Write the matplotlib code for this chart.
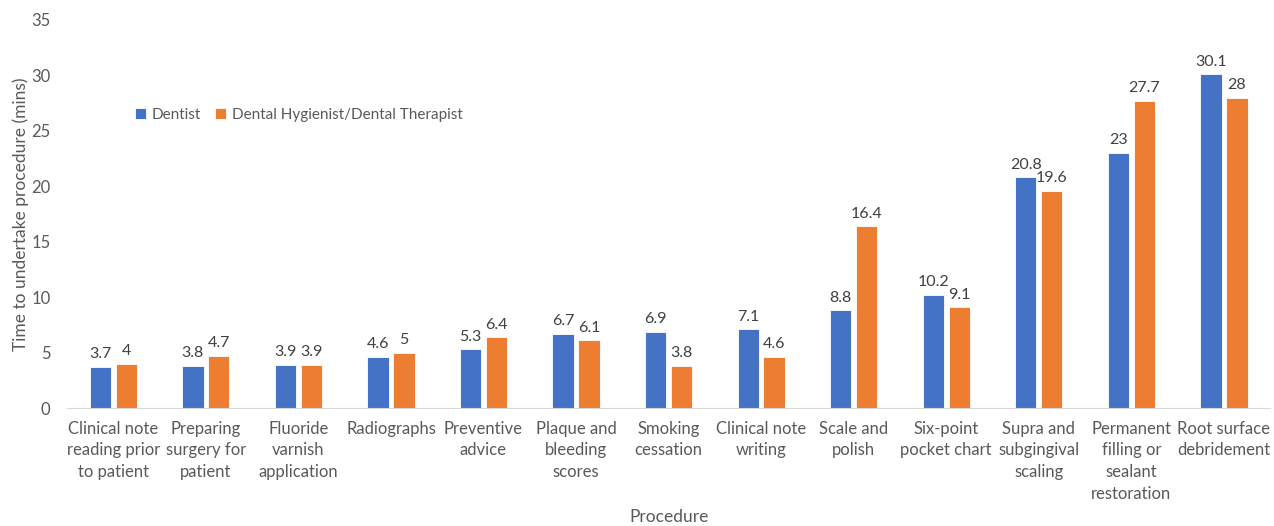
"""
Time taken per dental procedure, dentist vs dental hygienist/therapist.
"""
import matplotlib
matplotlib.use("Agg")
import matplotlib.pyplot as plt
import numpy as np

procedures = [
    "Clinical note\nreading prior\nto patient",
    "Preparing\nsurgery for\npatient",
    "Fluoride\nvarnish\napplication",
    "Radiographs",
    "Preventive\nadvice",
    "Plaque and\nbleeding\nscores",
    "Smoking\ncessation",
    "Clinical note\nwriting",
    "Scale and\npolish",
    "Six-point\npocket chart",
    "Supra and\nsubgingival\nscaling",
    "Permanent\nfilling or\nsealant\nrestoration",
    "Root surface\ndebridement",
]
dentist = [3.7, 3.8, 3.9, 4.6, 5.3, 6.7, 6.9, 7.1, 8.8, 10.2, 20.8, 23, 30.1]
hygienist = [4, 4.7, 3.9, 5, 6.4, 6.1, 3.8, 4.6, 16.4, 9.1, 19.6, 27.7, 28]

BLUE = "#4472C4"
ORANGE = "#ED7D31"
TICK = "#595959"
LABEL = "#404040"

plt.rcParams["font.family"] = ["Lato", "DejaVu Sans"]

fig = plt.figure(figsize=(12.74, 5.26), dpi=100)
ax = fig.add_axes([0.0526, 0.2243, 0.9444, 0.7377])

x = np.arange(len(procedures))
w = 0.23
b1 = ax.bar(x - w / 2 - 0.025, dentist, w, color=BLUE, edgecolor="white",
            linewidth=0.6, label="Dentist")
b2 = ax.bar(x + w / 2 + 0.025, hygienist, w, color=ORANGE, edgecolor="white",
            linewidth=0.6, label="Dental Hygienist/Dental Therapist")

for bars in (b1, b2):
    ax.bar_label(bars, labels=[f"{v:g}" for v in bars.datavalues],
                 padding=4, fontsize=11.5, color=LABEL)

ax.set_xlim(-0.5, len(procedures) - 0.5)
ax.set_ylim(0, 35)
ax.set_yticks(range(0, 36, 5))
ax.set_xticks(x)
ax.set_xticklabels(procedures, fontsize=12, color=TICK, linespacing=1.45)
ax.tick_params(axis="y", labelsize=12, labelcolor=TICK, length=0, pad=12)
ax.tick_params(axis="x", length=0, pad=9)

for side in ("top", "right", "left"):
    ax.spines[side].set_visible(False)
ax.spines["bottom"].set_color("#D9D9D9")

ax.set_ylabel("Time to undertake procedure (mins)", fontsize=12.5, color=TICK)
ax.yaxis.set_label_coords(-0.032, 0.5)
ax.set_xlabel("Procedure", fontsize=12.5, color=TICK)
ax.xaxis.set_label_coords(0.5, -0.26)

ax.legend(loc="center left", bbox_to_anchor=(0.045, 0.756), ncol=2,
          frameon=False, fontsize=11, labelcolor=TICK, handlelength=0.75,
          handleheight=0.75, handletextpad=0.35, columnspacing=0.9)

fig.savefig("out.png", dpi=100)
plt.close(fig)
